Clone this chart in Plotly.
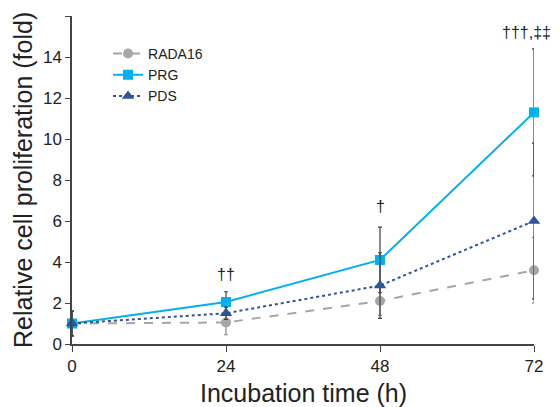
import plotly.graph_objects as go

time_h = [0, 24, 48, 72]
rada16 = [1.0, 1.05, 2.1, 3.6]
rada16_err = [0.6, 0.6, 0.7, 1.6]
prg = [1.0, 2.05, 4.1, 11.3]
prg_err = [0.6, 0.5, 1.6, 3.1]
pds = [1.0, 1.5, 2.85, 6.0]
pds_err = [0.6, 0.3, 1.6, 3.8]

sig_x = [24, 48, 70.9]
sig_y = [3.4, 6.7, 15.2]
sig_text = ["††", "†", "†††,‡‡"]

font = "Liberation Sans, Arial, sans-serif"

fig = go.Figure()

def add(name, y, err, color, dash, symbol, size, ecol):
    fig.add_trace(go.Scatter(
        x=time_h, y=y, name=name, mode="lines+markers", cliponaxis=False,
        line=dict(color=color, dash=dash, width=2),
        marker=dict(color=color, symbol=symbol, size=size),
        error_y=dict(type="data", array=err, visible=True, color=ecol, thickness=1.2, width=2),
    ))

add("RADA16", rada16, rada16_err, "#A6A6A6", "dash", "circle", 10, "#8C8C8C")
add("PRG", prg, prg_err, "#00B0F0", "solid", "square", 10, "#404040")
add("PDS", pds, pds_err, "#2F5597", "dot", "triangle-up", 11, "#404040")

for x, y, t in zip(sig_x, sig_y, sig_text):
    fig.add_annotation(x=x, y=y, text=t, showarrow=False,
                       font=dict(family=font, size=16, color="#222"))

# axis titles as paper-anchored annotations
fig.add_annotation(x=0.5, y=0, xref="paper", yref="paper", yshift=-49,
                   text="Incubation time (h)", showarrow=False, yanchor="middle",
                   font=dict(family=font, size=25, color="#222"))
fig.add_annotation(x=0, y=0.5, xref="paper", yref="paper", xshift=-49,
                   text="Relative cell proliferation (fold)", showarrow=False,
                   textangle=-90, xanchor="center",
                   font=dict(family=font, size=25, color="#222"))

fig.update_layout(
    width=559, height=407,
    margin=dict(l=64, r=33, t=8, b=71),
    plot_bgcolor="white", paper_bgcolor="white",
    font=dict(family=font, size=14, color="#222"),
    showlegend=True,
    legend=dict(x=0.078, y=0.933, xanchor="left", yanchor="top",
                bgcolor="rgba(0,0,0,0)", font=dict(size=14), itemwidth=30,
                tracegroupgap=0),
    xaxis=dict(range=[0, 72], tickvals=time_h, showline=True, linecolor="#444",
               linewidth=1.5, ticks="outside", ticklen=6, tickcolor="#444",
               showgrid=False, zeroline=False, automargin=False,
               tickfont=dict(size=17)),
    yaxis=dict(range=[0, 16], dtick=2, showline=True, linecolor="#444",
               linewidth=1.5, ticks="outside", ticklen=5, tickcolor="#444",
               showgrid=False, zeroline=False, automargin=False,
               tickfont=dict(size=17)),
)

fig.write_html("out.html")
